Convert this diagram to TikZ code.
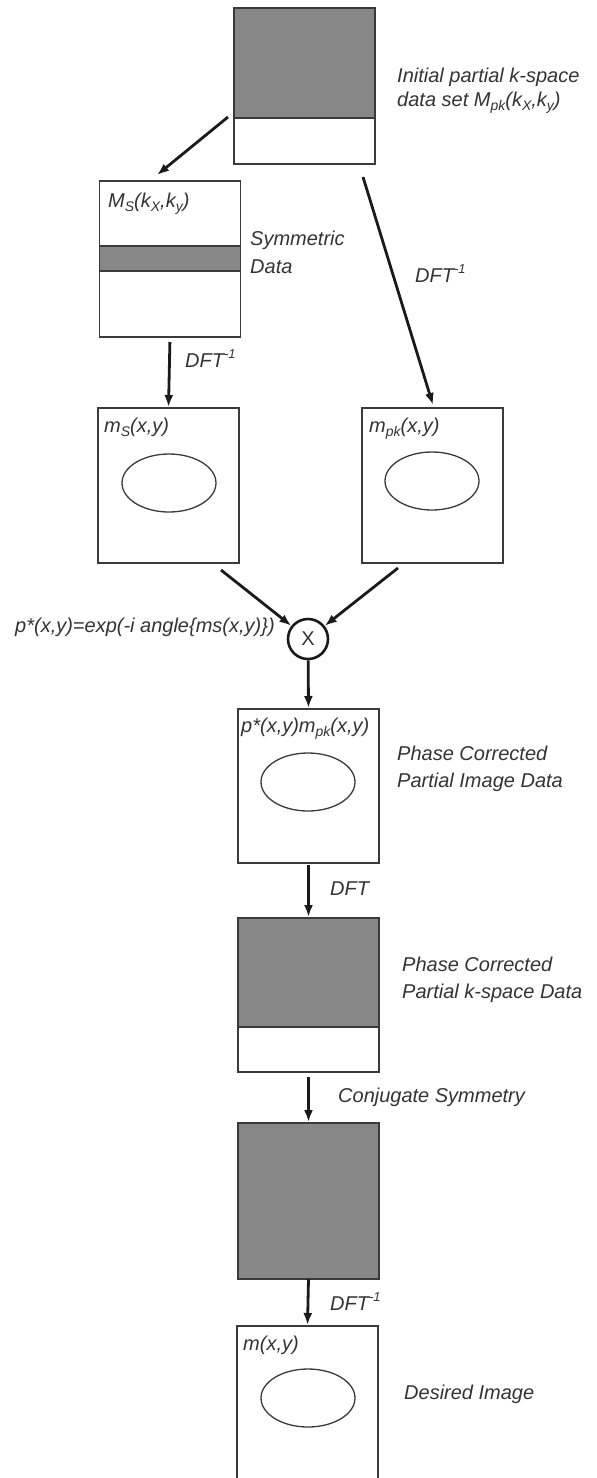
\documentclass[tikz,border=0pt]{standalone}
\usepackage{fontspec}
\setmainfont{Liberation Sans}
\usetikzlibrary{arrows.meta,calc,shapes.geometric}
\definecolor{gfill}{HTML}{878787}
\definecolor{edgec}{HTML}{3A3A3A}
\definecolor{txtc}{HTML}{333333}
\definecolor{arrc}{HTML}{1A1A1A}
\newcommand\lowsub[1]{\raisebox{-0.22em}{\fontsize{14}{14}\selectfont #1}}
\newcommand\highsup[1]{\raisebox{0.42em}{\fontsize{13}{13}\selectfont #1}}
\begin{document}
\begin{tikzpicture}[x=1pt,y=-1pt,
  font=\fontsize{20}{24}\selectfont\itshape, text=txtc,
  boxn/.style={draw=edgec, line width=1.6pt, inner sep=0pt, outer sep=0pt, minimum width=141pt},
  ell/.style={ellipse, draw=edgec, line width=1.3pt, inner sep=0pt, minimum width=94pt, minimum height=58pt},
  lbl/.style={anchor=base west, inner sep=0pt, align=left},
  arr/.style={draw=arrc, line width=2.8pt, -{Latex[length=12pt,width=9pt]}},
  divl/.style={draw=edgec, line width=1.6pt}]
\useasboundingbox (0,0) rectangle (597,1478);

% boxes
\node[boxn, minimum height=156pt] (b1) at (304.5,86) {};
\fill[gfill] ($(b1.north west)+(0.8,0.8)$) rectangle ($(b1.north east)+(-0.8,110)$);
\draw[divl] ($(b1.north west)+(0,110)$) -- ($(b1.north east)+(0,110)$);

\node[boxn, minimum height=156pt] (b2) at (170,259) {};
\fill[gfill] ($(b2.north west)+(0.8,65)$) rectangle ($(b2.north east)+(-0.8,90)$);
\draw[divl] ($(b2.north west)+(0,65)$) -- ($(b2.north east)+(0,65)$);
\draw[divl] ($(b2.north west)+(0,90)$) -- ($(b2.north east)+(0,90)$);

\node[boxn, minimum height=155pt] (b3) at (168.5,485.5) {};
\node[boxn, minimum height=155pt] (b4) at (432.5,485.5) {};
\node[boxn, minimum height=154pt] (b5) at (308.5,786) {};

\node[boxn, minimum height=154pt] (b6) at (308.5,995) {};
\fill[gfill] ($(b6.north west)+(0.8,0.8)$) rectangle ($(b6.north east)+(-0.8,109)$);
\draw[divl] ($(b6.north west)+(0,109)$) -- ($(b6.north east)+(0,109)$);

\node[boxn, minimum height=156pt, fill=gfill] (b7) at (308.5,1201) {};
\node[boxn, minimum height=156pt] (b8) at (307.5,1404) {};

% ellipses
\node[ell] (e3) at (169,483) {};
\node[ell] (e4) at (432,481) {};
\node[ell] (e5) at (308,782) {};
\node[ell] (e8) at (308,1398) {};

% multiplier
\node[circle, draw=arrc, line width=2.6pt, minimum size=40pt, inner sep=0pt,
      font=\fontsize{20}{24}\selectfont\upshape] (X) at (308,639) {X};

% connectors
\coordinate (s1) at (228,117);
\coordinate (t1) at (157,175);
\draw[arr] (s1) -- (t1);
\coordinate (s2) at (363,177);
\coordinate (t2) at (433,405);
\draw[arr] (s2) -- (t2);
\draw[arr, shorten <=5pt, shorten >=1pt] (b2.south) -- (b3.north);
\coordinate (s4) at (221,570);
\draw[arr] (s4) -- (X);
\coordinate (s5) at (398,568);
\draw[arr] (s5) -- (X);
\draw[arr, shorten >=1pt] (X) -- (b5.north);
\draw[arr, shorten <=2pt, shorten >=1pt] (b5.south) -- (b6.north);
\draw[arr, shorten <=5pt, shorten >=1pt] (b6.south) -- (b7.north);
\draw[arr, shorten >=1pt] (b7.south) -- (b8.north);

% labels (multi-line nodes are anchored at the baseline of their last line)
\node[lbl] (L1) at (397,106) {Initial partial k-space\\data set M\lowsub{pk}(k\lowsub{X},k\lowsub{y})};
\node[lbl, font=\fontsize{20}{28}\selectfont\itshape] (L2) at (250,273) {Symmetric\\Data};
\node[lbl] (L3) at (108,207) {M\lowsub{S}(k\lowsub{X},k\lowsub{y})};
\node[lbl] (L4) at (415,282) {DFT\highsup{-1}};
\node[lbl] (L5) at (185,367) {DFT\highsup{-1}};
\node[lbl] (L6) at (104,432) {m\lowsub{S}(x,y)};
\node[lbl] (L7) at (369,432) {m\lowsub{pk}(x,y)};
\node[lbl] (L8) at (15,632) {p*(x,y)=exp(-i angle\{ms(x,y)\})};
\node[lbl] (L9) at (241,732) {p*(x,y)m\lowsub{pk}(x,y)};
\node[lbl, font=\fontsize{20}{27}\selectfont\itshape] (L10) at (397,787) {Phase Corrected\\Partial Image Data};
\node[lbl] (L11) at (330,895) {DFT};
\node[lbl, font=\fontsize{20}{26.5}\selectfont\itshape] (L12) at (402,998) {Phase Corrected\\Partial k-space Data};
\node[lbl] (L13) at (338,1102) {Conjugate Symmetry};
\node[lbl] (L14) at (330,1310) {DFT\highsup{-1}};
\node[lbl] (L15) at (243,1350) {m(x,y)};
\node[lbl] (L16) at (404,1399) {Desired Image};
\end{tikzpicture}
\end{document}
